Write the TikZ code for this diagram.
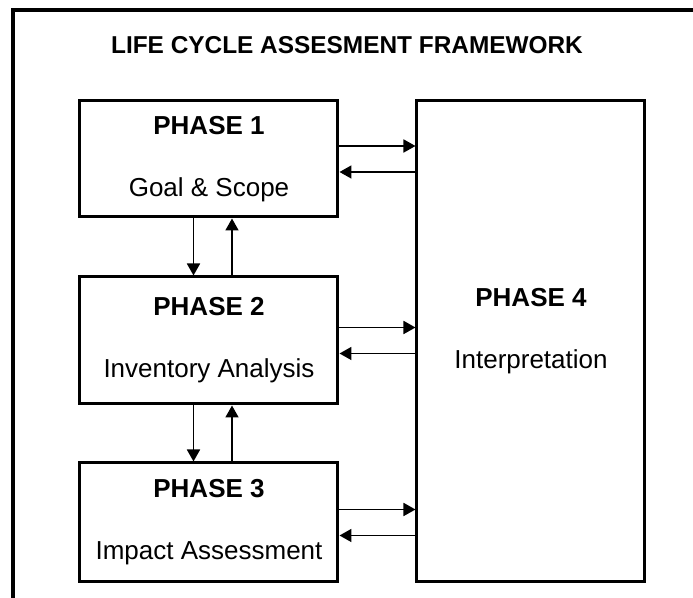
\documentclass[tikz,border=0pt]{standalone}
\usepackage{fontspec}
\setmainfont{Liberation Sans}
\usetikzlibrary{arrows.meta,positioning}
\tikzset{
    phase/.style={draw, line width=1.5pt, minimum width=129pt, align=center, font=\fontsize{13}{15}\selectfont},
    label/.style={align=center, font=\fontsize{13}{15}\selectfont},
    flow/.style={-{Triangle[length=6pt, width=6.5pt]}, line width=0.9pt},
    frame/.style={line width=1.75pt}
}

\begin{document}
\begin{tikzpicture}[x=0.5pt, y=-0.5pt, node distance=28.5pt]
    \useasboundingbox (0,0) rectangle (693,598);
    \clip (0,0) rectangle (693,598);
    % outer frame, cut off on the right and at the bottom
    \draw[frame] (13,620) |- (720,10);
    \node[label, font=\fontsize{12.2}{14}\selectfont\bfseries] (title) at (347,45) {LIFE CYCLE ASSESMENT FRAMEWORK};

    \node[phase, minimum height=58pt] (p1) at (209,159) {\textbf{PHASE 1}\\[16pt]Goal \& Scope};
    \node[phase, minimum height=63.5pt, below=of p1] (p2) {\textbf{PHASE 2}\\[16pt]Inventory Analysis};
    \node[phase, minimum height=59.5pt, below=28pt of p2] (p3) {\textbf{PHASE 3}\\[16pt]Impact Assessment};
    \node[phase, minimum width=114pt, minimum height=240.5pt, right=38pt of p1.north east, anchor=north west] (p4) {};
    \node[label] (p4text) at ([yshift=5pt]p4.center) {\textbf{PHASE 4}\\[16pt]Interpretation};

    % up and down between the phases
    \draw[flow] ([xshift=-7.75pt]p1.south) -- ([xshift=-7.75pt]p2.north);
    \draw[flow] ([xshift=11.5pt]p2.north) -- ([xshift=11.5pt]p1.south);
    \draw[flow] ([xshift=-7.75pt]p2.south) -- ([xshift=-7.75pt]p3.north);
    \draw[flow] ([xshift=11.5pt]p3.north) -- ([xshift=11.5pt]p2.south);

    % to and from interpretation
    \foreach \p in {p1,p2,p3} {
        \draw[flow] ([yshift=6.5pt]\p.east) -- ([yshift=6.5pt]\p.east -| p4.west);
        \draw[flow] ([yshift=-6.5pt]\p.east -| p4.west) -- ([yshift=-6.5pt]\p.east);
    }
\end{tikzpicture}
\end{document}
